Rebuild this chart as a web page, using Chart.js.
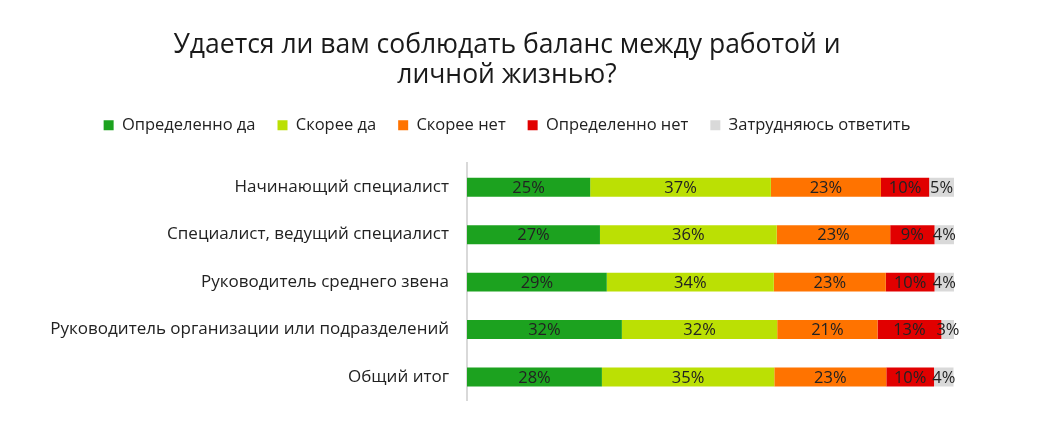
<!DOCTYPE html>
<html><head><meta charset="utf-8">
<script src="https://cdn.jsdelivr.net/npm/chart.js@4"></script>
<style>html,body{margin:0;padding:0;background:#fff}#wrap{width:1041px;height:429px}</style>
</head><body><div id="wrap"><canvas id="c"></canvas></div>
<script>
const categories = ["Начинающий специалист","Специалист, ведущий специалист","Руководитель среднего звена","Руководитель организации или подразделений","Общий итог"];
const seriesNames = ["Определенно да","Скорее да","Скорее нет","Определенно нет","Затрудняюсь ответить"];
const definitelyYes = [25.3, 27.3, 28.7, 31.8, 27.7];
const ratherYes     = [37.1, 36.3, 34.3, 31.9, 35.4];
const ratherNo      = [22.6, 23.3, 23.0, 20.6, 23.0];
const definitelyNo  = [9.9, 9.1, 10.0, 13.1, 9.8];
const hardToSay     = [5.1, 4.0, 4.0, 2.7, 4.0];
const colors = ["#1ca21f","#bbe004","#ff7300","#e10000","#d9d9d9"];
const FONT = "'Open Sans'";

const labelPlugin = {
  id: 'segLabels',
  beforeUpdate(chart) {
    const lg = chart.legend;
    if (lg && !lg._patched) {
      const f = lg.fit.bind(lg);
      lg.fit = function () { f(); this.height += 20; };
      lg._patched = true;
    }
  },
  afterLayout(chart) {
    [chart.titleBlock, chart.legend].forEach(b => {
      if (b) { b.left += 20; b.right += 20; }
    });
  },
  afterDatasetsDraw(chart) {
    const ctx = chart.ctx;
    ctx.save();
    ctx.font = "16.5px " + FONT;
    ctx.fillStyle = "#222";
    ctx.textAlign = "center";
    ctx.textBaseline = "middle";
    chart.data.datasets.forEach((ds, i) => {
      const meta = chart.getDatasetMeta(i);
      meta.data.forEach((el, j) => {
        const v = ds.data[j];
        const cx = (el.x + el.base) / 2;
        ctx.fillText(Math.round(v) + "%", cx, el.y + 1);
      });
    });
    ctx.restore();
  }
};

new Chart(document.getElementById('c'), {
  type: 'bar',
  data: {
    labels: categories,
    datasets: [definitelyYes, ratherYes, ratherNo, definitelyNo, hardToSay].map((d, i) => ({
      label: seriesNames[i], data: d, backgroundColor: colors[i], borderWidth: 0,
      categoryPercentage: 0.4, barPercentage: 1
    }))
  },
  options: {
    indexAxis: 'y',
    responsive: true, maintainAspectRatio: false, animation: false,
    layout: { padding: { left: 20, right: 87, top: 0, bottom: 28 } },
    plugins: {
      title: { display: true, text: ["Удается ли вам соблюдать баланс между работой и", "личной жизнью?"],
        color: "#1a1a1a", font: { family: FONT, size: 26.5, weight: 'normal', lineHeight: 1.15 },
        padding: { top: 30, bottom: 4 } },
      legend: { position: 'top', labels: { boxWidth: 10, boxHeight: 10, color: "#222",
        font: { family: FONT, size: 16.5 }, padding: 22 } },
      tooltip: { enabled: false }
    },
    scales: {
      x: { stacked: true, min: 0, max: 100, display: false },
      y: { stacked: true, grid: { display: false, drawTicks: false },
        border: { display: true, color: "#d9d9d9", width: 2 },
        ticks: { color: "#222", font: { family: FONT, size: 17 }, padding: 18 },
        afterFit(s) { s.width = 447; } }
    }
  },
  plugins: [labelPlugin]
});
</script></body></html>
